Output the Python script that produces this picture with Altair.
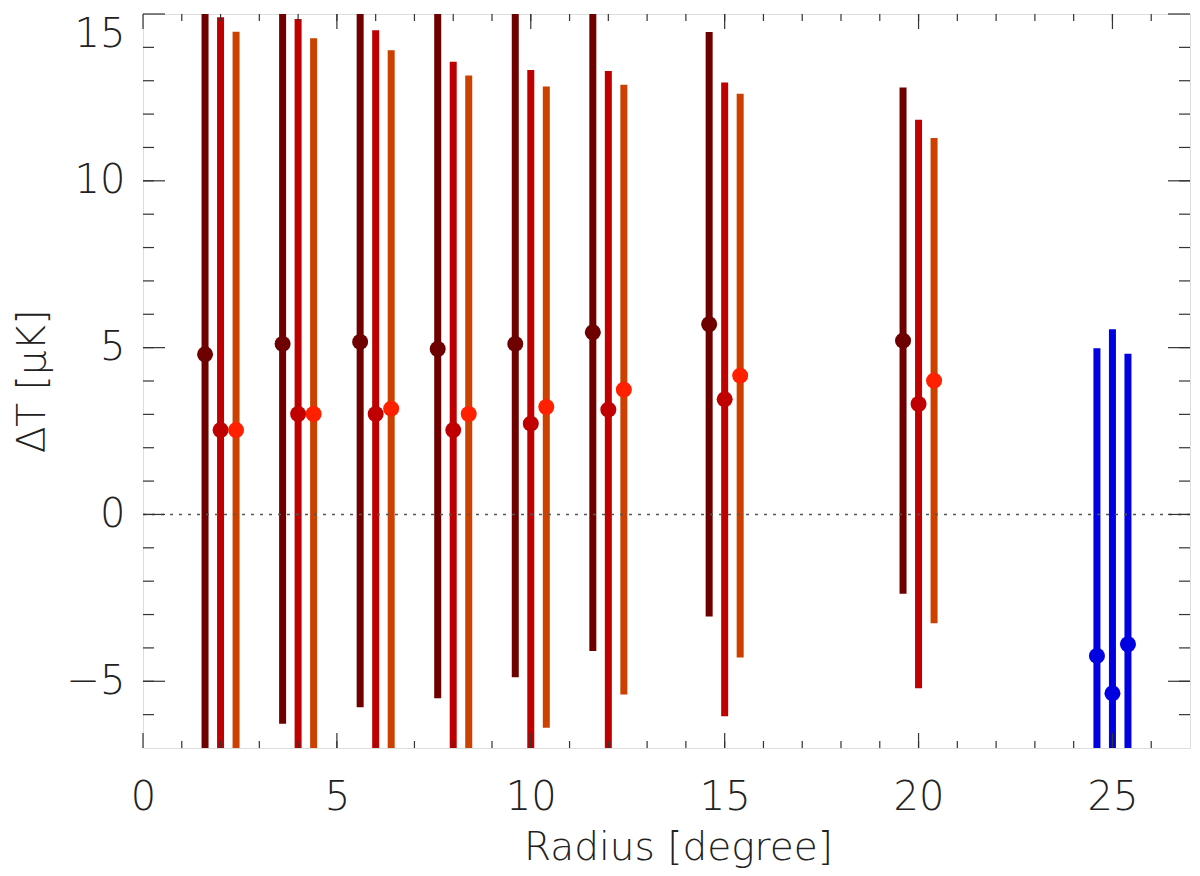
import altair as alt
import pandas as pd

# ---- data ----
x_a = [1.6, 3.6, 5.6, 7.6, 9.6, 11.6, 14.6, 19.6]
val_a = [4.80, 5.11, 5.17, 4.96, 5.11, 5.46, 5.70, 5.21]
err_a = [11.9, 11.38, 10.95, 10.47, 9.99, 9.55, 8.76, 7.59]

x_b = [2.0, 4.0, 6.0, 8.0, 10.0, 12.0, 15.0, 20.0]
val_b = [2.53, 3.01, 3.01, 2.53, 2.72, 3.14, 3.45, 3.31]
err_b = [12.37, 11.84, 11.50, 11.04, 10.60, 10.15, 9.50, 8.52]

x_c = [2.4, 4.4, 6.4, 8.4, 10.4, 12.4, 15.4, 20.4]
val_c = [2.53, 3.01, 3.17, 3.01, 3.22, 3.74, 4.16, 4.01]
err_c = [11.94, 11.26, 10.74, 10.15, 9.61, 9.14, 8.45, 7.27]

x_d = [24.6, 25.0, 25.4]
val_d = [-4.24, -5.36, -3.89]
err_d = [9.22, 10.91, 8.71]

series_names = ["A", "B", "C", "D"]
x_ticks_major = [0, 5, 10, 15, 20, 25]
y_ticks_major = [-5, 0, 5, 10, 15]
x_ticks_minor = list(range(1, 27))
y_ticks_minor = list(range(-6, 15))

# ---- styles ----
bar_colors = ["#6E0000", "#C00000", "#CC4000", "#0000E0"]
pt_colors = ["#6E0000", "#C00000", "#FF2000", "#0000E0"]
FONT = "DejaVu Sans"
W, H = 1047, 734

rows = []
for name, xs, vs, es in zip(series_names, [x_a, x_b, x_c, x_d],
                            [val_a, val_b, val_c, val_d],
                            [err_a, err_b, err_c, err_d]):
    for x, v, e in zip(xs, vs, es):
        rows.append({"series": name, "r": x, "v": v, "lo": v - e, "hi": v + e})
df = pd.DataFrame(rows)

xscale = alt.Scale(domain=[0, 27], nice=False, zero=False)
yscale = alt.Scale(domain=[-7, 15], nice=False, zero=False)

xaxis = alt.Axis(values=x_ticks_major, format="d", grid=False, domain=False,
                 ticks=False, tickSize=0, labelPadding=29, labelFontSize=40,
                 labelFont=FONT, labelFontWeight=200, labelColor="#222",
                 labelFlush=False,
                 title="Radius [degree]", titleFont=FONT, titleFontSize=39,
                 titleFontWeight=200, titleColor="#222", titleY=111,
                 titleX=535, titleBaseline="alphabetic")
yaxis = alt.Axis(values=y_ticks_major, format="d", grid=False, domain=False,
                 ticks=False, tickSize=0, labelPadding=18, labelFontSize=40,
                 labelFont=FONT, labelFontWeight=200, labelColor="#222",
                 labelFlush=True,
                 title="ΔT [μK]", titleFont=FONT, titleFontSize=39,
                 titleFontWeight=200, titleColor="#222", titleAngle=270,
                 titleX=-111, titleBaseline="middle")

base = alt.Chart(df)

bars = base.mark_rule(strokeWidth=7, clip=True).encode(
    x=alt.X("r:Q", scale=xscale, axis=xaxis),
    y=alt.Y("lo:Q", scale=yscale, axis=yaxis),
    y2="hi:Q",
    color=alt.Color("series:N", scale=alt.Scale(domain=series_names, range=bar_colors), legend=None),
)

zero = alt.Chart(pd.DataFrame({"z": [0]})).mark_rule(
    strokeDash=[3, 6], color="#555", strokeWidth=1.5
).encode(y=alt.Y("z:Q", scale=yscale))

points = base.mark_point(filled=True, shape="circle", size=256, opacity=1, clip=True).encode(
    x=alt.X("r:Q", scale=xscale),
    y=alt.Y("v:Q", scale=yscale),
    color=alt.Color("series:N", scale=alt.Scale(domain=series_names, range=pt_colors), legend=None),
)

tick_color = "#333"
xmaj = pd.DataFrame({"t": x_ticks_major})
xmin = pd.DataFrame({"t": x_ticks_minor})
ymaj = pd.DataFrame({"t": y_ticks_major})
ymin = pd.DataFrame({"t": y_ticks_minor})


def xt(d, y0, y1):
    return alt.Chart(d).mark_rule(color=tick_color, strokeWidth=1.2).encode(
        x=alt.X("t:Q", scale=xscale), y=alt.value(y0), y2=alt.value(y1))


def yt(d, x0, x1):
    return alt.Chart(d).mark_rule(color=tick_color, strokeWidth=1.2).encode(
        y=alt.Y("t:Q", scale=yscale), x=alt.value(x0), x2=alt.value(x1))


ticks = [
    xt(xmaj, H, H - 15), xt(xmin, H, H - 7), xt(xmaj, 0, 15), xt(xmin, 0, 7),
    yt(ymaj, 0, 22), yt(ymin, 0, 11), yt(ymaj, W, W - 22), yt(ymin, W, W - 11),
]

chart = alt.layer(bars, zero, points, *ticks).resolve_scale(color="independent").properties(
    width=W, height=H,
    autosize=alt.AutoSizeParams(type="none"),
    padding={"left": 135, "top": 6, "right": 2, "bottom": 120},
).configure_view(stroke="#777", strokeWidth=2).configure(background="white")

chart.save("out.html", embed_options={"renderer": "svg", "actions": False})
